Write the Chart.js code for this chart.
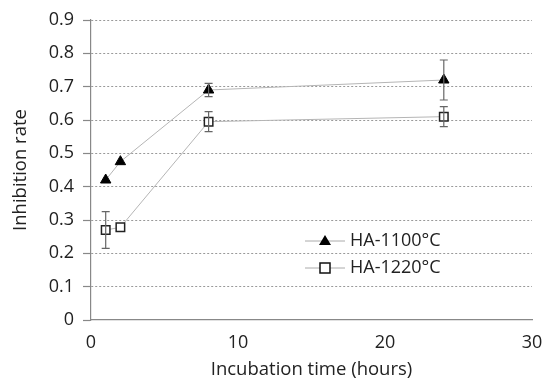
<!DOCTYPE html>
<html>
<head>
<meta charset="utf-8">
<script src="https://cdn.jsdelivr.net/npm/chart.js@4/dist/chart.umd.min.js"></script>
<style>
  html, body { margin: 0; padding: 0; background: #fff; }
  #wrap { width: 542px; height: 385px; }
</style>
</head>
<body>
<div id="wrap"><canvas id="chart" width="542" height="385"></canvas></div>
<script>
const hours = [1, 2, 8, 24];
const ha1100 = [0.42, 0.475, 0.69, 0.72];
const ha1100Err = [0, 0, 0.02, 0.06];
const ha1220 = [0.27, 0.278, 0.595, 0.61];
const ha1220Err = [0.055, 0, 0.03, 0.03];
const xTicks = [0, 10, 20, 30];
const seriesNames = ['HA-1100°C', 'HA-1220°C'];

const FONT = '"Open Sans", "Noto Sans", sans-serif';
const TEXT = '#222';

function points(xs, ys) {
  return xs.map((x, i) => ({ x, y: ys[i] }));
}

const errorBars = {
  id: 'errorBars',
  afterDatasetsDraw(chart) {
    const { ctx, scales: { x, y } } = chart;
    const errs = [ha1100Err, ha1220Err];
    ctx.save();
    ctx.strokeStyle = '#666';
    ctx.lineWidth = 1.2;
    chart.data.datasets.forEach((ds, d) => {
      ds.data.forEach((p, i) => {
        const e = errs[d][i];
        if (!e) return;
        const px = x.getPixelForValue(p.x);
        const top = y.getPixelForValue(p.y + e);
        const bot = y.getPixelForValue(p.y - e);
        ctx.beginPath();
        ctx.moveTo(px, top); ctx.lineTo(px, bot);
        ctx.moveTo(px - 4, top); ctx.lineTo(px + 4, top);
        ctx.moveTo(px - 4, bot); ctx.lineTo(px + 4, bot);
        ctx.stroke();
      });
    });
    ctx.restore();
  }
};

const insideLegend = {
  id: 'insideLegend',
  afterDraw(chart) {
    const { ctx } = chart;
    const x0 = 305, rows = [241, 268];
    ctx.save();
    chart.data.datasets.forEach((ds, i) => {
      const yy = rows[i];
      ctx.strokeStyle = '#aaa';
      ctx.lineWidth = 1;
      ctx.beginPath();
      ctx.moveTo(x0, yy); ctx.lineTo(x0 + 40, yy);
      ctx.stroke();
      const cx = x0 + 20;
      ctx.strokeStyle = '#111';
      if (i === 0) {
        ctx.fillStyle = '#000';
        ctx.beginPath();
        ctx.moveTo(cx, yy - 6); ctx.lineTo(cx + 6, yy + 4); ctx.lineTo(cx - 6, yy + 4);
        ctx.closePath(); ctx.fill();
      } else {
        ctx.fillStyle = '#fff';
        ctx.lineWidth = 1.5;
        ctx.fillRect(cx - 5, yy - 5, 10, 10);
        ctx.strokeRect(cx - 5, yy - 5, 10, 10);
      }
      ctx.fillStyle = TEXT;
      ctx.font = '18px ' + FONT;
      ctx.textBaseline = 'middle';
      ctx.fillText(seriesNames[i], x0 + 45, yy);
    });
    ctx.restore();
  }
};

new Chart(document.getElementById('chart'), {
  type: 'scatter',
  data: {
    datasets: [
      {
        label: seriesNames[0],
        data: points(hours, ha1100),
        showLine: true,
        borderColor: '#b5b5b5',
        borderWidth: 1,
        pointStyle: 'triangle',
        pointRadius: 6,
        pointBackgroundColor: '#000',
        pointBorderColor: '#000',
        pointBorderWidth: 1
      },
      {
        label: seriesNames[1],
        data: points(hours, ha1220),
        showLine: true,
        borderColor: '#b5b5b5',
        borderWidth: 1,
        pointStyle: 'rect',
        pointRadius: 6,
        pointBackgroundColor: '#fff',
        pointBorderColor: '#222',
        pointBorderWidth: 1.5
      }
    ]
  },
  options: {
    responsive: false,
    animation: false,
    layout: { padding: { top: 20, right: 2, left: 6, bottom: 0 } },
    plugins: {
      legend: { display: false },
      tooltip: { enabled: false }
    },
    scales: {
      x: {
        type: 'linear',
        min: 0,
        max: 30,
        afterBuildTicks: (s) => { s.ticks = xTicks.map(v => ({ value: v })); },
        afterFit: (s) => { s.height = 65; s.paddingRight = 10; },
        grid: { display: false, drawTicks: true, tickLength: 7, tickColor: '#888' },
        border: { color: '#888', width: 1.2 },
        ticks: { color: TEXT, font: { family: FONT, size: 18 }, padding: 5, maxRotation: 0 },
        title: { display: true, text: 'Incubation time (hours)', color: TEXT, font: { family: FONT, size: 18.5 }, padding: { top: 8 } }
      },
      y: {
        min: 0,
        max: 0.9,
        afterFit: (s) => { s.width = 85; },
        grid: {
          color: (c) => c.tick.value === 0 ? 'rgba(0,0,0,0)' : '#999',
          lineWidth: 1,
          drawTicks: true,
          tickLength: 8,
          tickColor: '#888',
          tickWidth: 1.2
        },
        border: { color: '#888', width: 1.2, dash: [2, 2] },
        ticks: {
          stepSize: 0.1,
          color: TEXT,
          font: { family: FONT, size: 18 },
          padding: 9,
          callback: (v) => Math.round(v * 10) / 10 === 0 ? '0' : (Math.round(v * 10) / 10).toFixed(1)
        },
        title: { display: true, text: 'Inhibition rate', color: TEXT, font: { family: FONT, size: 18.5 }, padding: { top: 4, bottom: 0 } }
      }
    }
  },
  plugins: [errorBars, insideLegend]
});
</script>
</body>
</html>
